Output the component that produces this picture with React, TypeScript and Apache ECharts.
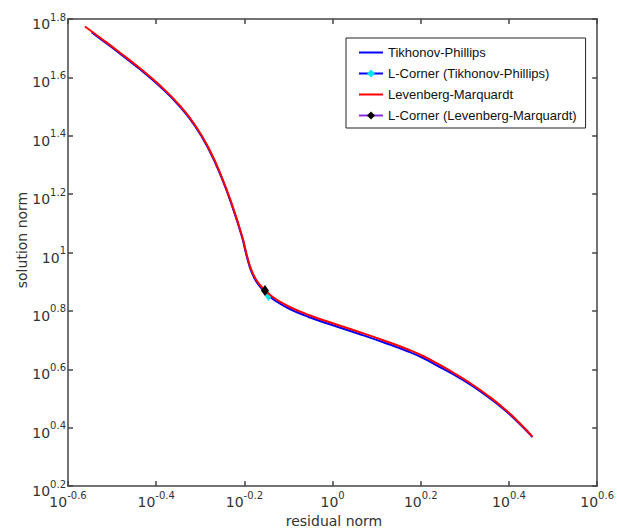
import React, { useEffect, useRef } from "react";
import * as echarts from "echarts";

// log10 values of residual norm / solution norm
const logResidualTP = [-0.54654, -0.52782, -0.48271, -0.43759, -0.39248, -0.34737, -0.31128, -0.2797, -0.25263, -0.22782, -0.20526, -0.19624, -0.18947, -0.18271, -0.17436, -0.16466, -0.15338, -0.13985, -0.1218, -0.09474, -0.05414, 0.00226, 0.05865, 0.11504, 0.17143, 0.20526, 0.2391, 0.27519, 0.31353, 0.35188, 0.39023, 0.4218, 0.45338];
const logSolutionTP = [1.75443, 1.73336, 1.68197, 1.62852, 1.57028, 1.50175, 1.43186, 1.35032, 1.25987, 1.16, 1.05293, 0.99657, 0.95889, 0.92977, 0.90407, 0.88351, 0.86535, 0.84583, 0.82699, 0.80472, 0.77902, 0.74992, 0.72183, 0.69236, 0.66084, 0.63857, 0.61114, 0.58115, 0.54606, 0.50582, 0.46038, 0.41671, 0.36722];
const logResidualLM = [-0.56165, -0.52782, -0.48271, -0.43759, -0.39248, -0.34737, -0.31128, -0.2797, -0.25263, -0.22782, -0.20526, -0.19624, -0.18947, -0.18271, -0.17436, -0.16466, -0.15338, -0.13985, -0.1218, -0.09474, -0.05414, 0.00226, 0.05865, 0.11504, 0.17143, 0.20526, 0.2391, 0.27519, 0.31353, 0.35188, 0.39023, 0.4218, 0.45338];
const logSolutionLM = [1.7743, 1.73679, 1.6854, 1.63195, 1.57371, 1.50518, 1.43529, 1.35375, 1.2633, 1.16343, 1.05636, 1.00171, 0.96403, 0.93491, 0.90921, 0.88865, 0.87049, 0.85268, 0.83384, 0.81157, 0.78587, 0.75677, 0.72868, 0.69921, 0.66769, 0.64542, 0.61799, 0.58715, 0.5512, 0.5101, 0.46381, 0.41928, 0.36893];
const cornerTP = [-0.14549, 0.85096];
const cornerLM = [-0.15338, 0.87];

const seriesNames = [
  "Tikhonov-Phillips",
  "L-Corner (Tikhonov-Phillips)",
  "Levenberg-Marquardt",
  "L-Corner (Levenberg-Marquardt)",
];

const xMin = -0.6, xMax = 0.6, yMin = 0.2, yMax = 1.8, step = 0.2;

const fmt = (v: number) => {
  const r = Math.round(v * 10) / 10;
  const s = Number.isInteger(r) ? String(r === 0 ? 0 : r) : r.toFixed(1);
  return `{b|10}{s|${s}}`;
};

const rich = {
  b: { fontSize: 14, fontFamily: "DejaVu Sans", color: "#333", lineHeight: 16, verticalAlign: "bottom" },
  s: { fontSize: 10, fontFamily: "DejaVu Sans", color: "#333", lineHeight: 10, padding: [0, 0, 9, 0], verticalAlign: "bottom" },
};

const axisLine = { show: true, onZero: false, lineStyle: { color: "#444", width: 1.5 } };
const axisTick = { show: true, inside: true, length: 5, lineStyle: { color: "#444", width: 1.5 } };

export default function App() {
  const ref = useRef<HTMLDivElement>(null);
  useEffect(() => {
    const chart = echarts.init(ref.current!, undefined, { renderer: "svg" });
    const zip = (a: number[], b: number[]) => a.map((x, i) => [x, b[i]]);
    chart.setOption({
      animation: false,
      backgroundColor: "#fff",
      grid: { left: 68, right: 17, top: 19, bottom: 46, containLabel: false },
      xAxis: [
        {
          type: "value", min: xMin, max: xMax, interval: step, position: "bottom",
          axisLine, axisTick, splitLine: { show: false },
          axisLabel: { formatter: fmt, rich, margin: 2, padding: [5, 0, 0, 0] },
        },
        {
          type: "value", min: xMin, max: xMax, interval: step, position: "top",
          axisLine, axisTick, splitLine: { show: false }, axisLabel: { show: false },
        },
      ],
      yAxis: [
        {
          type: "value", min: yMin, max: yMax, interval: step, position: "left",
          axisLine, axisTick, splitLine: { show: false },
          axisLabel: { formatter: fmt, rich, margin: 2, padding: [8, 0, 0, 0] },
        },
        {
          type: "value", min: yMin, max: yMax, interval: step, position: "right",
          axisLine, axisTick, splitLine: { show: false }, axisLabel: { show: false },
        },
      ],
      legend: {
        left: 346, top: 38, orient: "vertical",
        backgroundColor: "#fff", borderColor: "#222", borderWidth: 1, borderRadius: 0,
        padding: [8, 9, 6, 12], itemWidth: 24, itemHeight: 10, itemGap: 8,
        textStyle: { fontFamily: "Liberation Sans", fontSize: 13, color: "#111" },
        data: [
          { name: seriesNames[0], itemStyle: { opacity: 0 } },
          { name: seriesNames[1] },
          { name: seriesNames[2], itemStyle: { opacity: 0 } },
          { name: seriesNames[3] },
        ],
      },
      graphic: [
        { type: "text", x: 334, y: 521, style: { text: "residual norm", fontFamily: "DejaVu Sans", fontSize: 14, fill: "#333", textAlign: "center", textVerticalAlign: "middle" } },
        { type: "text", x: 22, y: 240, rotation: Math.PI / 2, style: { text: "solution norm", fontFamily: "DejaVu Sans", fontSize: 14, fill: "#333", textAlign: "center", textVerticalAlign: "middle" } },
      ],
      series: [
        {
          name: seriesNames[0], type: "line", data: zip(logResidualTP, logSolutionTP),
          showSymbol: false, symbol: "none", smooth: 0.5,
          lineStyle: { color: "#0000ff", width: 2 }, itemStyle: { color: "#0000ff" }, z: 2,
        },
        {
          name: seriesNames[2], type: "line", data: zip(logResidualLM, logSolutionLM),
          showSymbol: false, symbol: "none", smooth: 0.5,
          lineStyle: { color: "#ff0000", width: 2 }, itemStyle: { color: "#ff0000" }, z: 3,
        },
        {
          name: seriesNames[1], type: "line", data: [cornerTP],
          symbol: "diamond", symbolSize: [7, 10],
          lineStyle: { color: "#0000ff", width: 1 }, itemStyle: { color: "#00e5ee" }, z: 2,
        },
        {
          name: seriesNames[3], type: "line", data: [cornerLM],
          symbol: "diamond", symbolSize: [8, 11],
          lineStyle: { color: "#8a2be2", width: 1 }, itemStyle: { color: "#000" }, z: 4,
        },
      ],
    });
    return () => chart.dispose();
  }, []);
  return <div ref={ref} style={{ position: "fixed", left: 0, top: 0, width: 617, height: 532 }} />;
}
